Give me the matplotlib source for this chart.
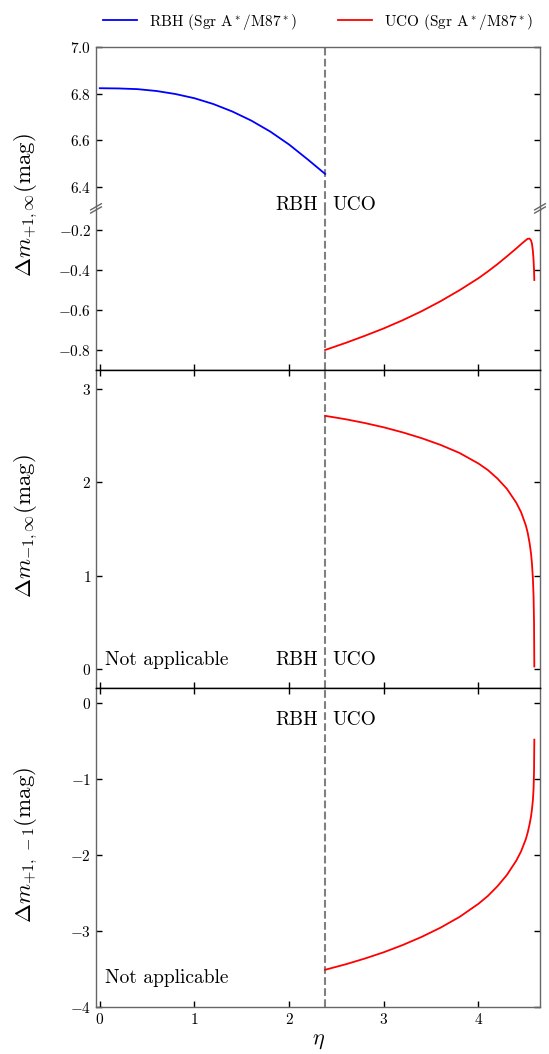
import matplotlib
matplotlib.use("Agg")
import matplotlib.pyplot as plt

plt.rcParams['font.family'] = 'serif'
plt.rcParams['font.serif'] = ['cmr10']
plt.rcParams['mathtext.fontset'] = 'cm'
plt.rcParams['axes.formatter.use_mathtext'] = True

# RBH branch (eta below the threshold)
eta_rbh = [0.0, 0.2, 0.4, 0.6, 0.8, 1.0, 1.2, 1.4, 1.6, 1.8, 2.0, 2.2, 2.38]
dm_p1_inf_rbh = [6.823, 6.822, 6.819, 6.811, 6.798, 6.780, 6.755, 6.723,
                 6.684, 6.637, 6.581, 6.516, 6.455]

# UCO branch
eta_uco = [2.38, 2.6, 2.8, 3.0, 3.2, 3.4, 3.6, 3.8, 4.0, 4.1, 4.2, 4.3, 4.4,
           4.45, 4.5, 4.52, 4.54, 4.555, 4.565, 4.575, 4.582, 4.587, 4.59]
dm_p1_inf_uco = [-0.800, -0.764, -0.729, -0.692, -0.651, -0.606, -0.556,
                 -0.501, -0.441, -0.407, -0.371, -0.332, -0.292, -0.271,
                 -0.251, -0.244, -0.243, -0.252, -0.268, -0.305, -0.35,
                 -0.40, -0.45]
dm_m1_inf_uco = [2.710, 2.673, 2.633, 2.587, 2.533, 2.471, 2.399, 2.313,
                 2.20, 2.13, 2.04, 1.93, 1.78, 1.68, 1.54, 1.46, 1.35, 1.24,
                 1.13, 0.97, 0.78, 0.50, 0.03]
dm_p1_m1_uco = [-3.510, -3.437, -3.362, -3.279, -3.184, -3.077, -2.955,
                -2.814, -2.641, -2.537, -2.411, -2.262, -2.072, -1.951,
                -1.791, -1.704, -1.593, -1.492, -1.398, -1.275, -1.13,
                -0.90, -0.48]

eta_c = 2.38
xlim = (-0.04, 4.65)
W, H = 549, 1054

fig = plt.figure(figsize=(W / 100, H / 100), dpi=100)
left, width = 96 / W, 444 / W


def px_axes(top, bottom):
    return fig.add_axes([left, 1 - bottom / H, width, (bottom - top) / H])


ax_hi = px_axes(47, 210)
ax_lo = px_axes(210, 370)
ax_mid = px_axes(370, 688)
ax_bot = px_axes(688, 1007)
axes = [ax_hi, ax_lo, ax_mid, ax_bot]

for ax in axes:
    ax.set_xlim(*xlim)
    ax.tick_params(direction='in', top=True, right=True, labelsize=11,
                   length=4, width=1, color='k')
    for s in ax.spines.values():
        s.set_color('0.4')
        s.set_linewidth(1.0)
    ax.axvline(eta_c, color='0.5', ls='--', lw=1.5, zorder=1)
    ax.set_xticks([0, 1, 2, 3, 4])

# broken top panel
ax_hi.set_ylim(6.3, 7.0)
ax_hi.set_yticks([6.4, 6.6, 6.8, 7.0])
ax_hi.spines['bottom'].set_visible(False)
ax_hi.tick_params(axis='x', top=False, bottom=False, labelbottom=False)
ax_lo.set_ylim(-0.9, -0.1)
ax_lo.set_yticks([-0.8, -0.6, -0.4, -0.2])
ax_lo.spines['top'].set_visible(False)
ax_lo.tick_params(axis='x', top=False, labelbottom=False)

ax_mid.set_ylim(-0.2, 3.2)
ax_mid.set_yticks([0, 1, 2, 3])
ax_mid.tick_params(axis='x', labelbottom=False)
ax_bot.set_ylim(-4, 0.2)
ax_bot.set_yticks([-4, -3, -2, -1, 0])

for ax in [ax_lo, ax_mid]:
    ax.spines['bottom'].set_color('k')
for ax in [ax_mid, ax_bot]:
    ax.spines['top'].set_color('k')

# break marks
d = 0.012
kw = dict(transform=ax_lo.transAxes, color='0.4', clip_on=False, lw=1.0)
for x0 in (0, 1):
    ax_lo.plot((x0 - d, x0 + d), (1 - 1.6 * d, 1 + 1.6 * d), **kw)
    ax_lo.plot((x0 - d, x0 + d), (1 - 1.6 * d + 0.02, 1 + 1.6 * d + 0.02), **kw)

l1, = ax_hi.plot(eta_rbh, dm_p1_inf_rbh, color='blue', lw=1.3,
                 label=r'RBH (Sgr A$^*$/M87$^*$)')
l2, = ax_lo.plot(eta_uco, dm_p1_inf_uco, color='red', lw=1.3,
                 label=r'UCO (Sgr A$^*$/M87$^*$)')
ax_mid.plot(eta_uco, dm_m1_inf_uco, color='red', lw=1.3)
ax_bot.plot(eta_uco, dm_p1_m1_uco, color='red', lw=1.3)

fs = 14
ax_lo.text(eta_c - 0.08, -0.1, 'RBH', ha='right', va='baseline', fontsize=fs)
ax_lo.text(eta_c + 0.08, -0.1, 'UCO', ha='left', va='baseline', fontsize=fs)
ax_mid.text(eta_c - 0.08, 0.05, 'RBH', ha='right', va='baseline', fontsize=fs)
ax_mid.text(eta_c + 0.08, 0.05, 'UCO', ha='left', va='baseline', fontsize=fs)
ax_mid.text(0.05, 0.05, 'Not applicable', ha='left', va='baseline', fontsize=fs)
ax_bot.text(eta_c - 0.08, -0.29, 'RBH', ha='right', va='baseline', fontsize=fs)
ax_bot.text(eta_c + 0.08, -0.29, 'UCO', ha='left', va='baseline', fontsize=fs)
ax_bot.text(0.05, -3.68, 'Not applicable', ha='left', va='baseline', fontsize=fs)

ylab_x = 26 / W
ylab_fs = 16.5
fig.text(ylab_x, 1 - 205 / H, r'$\Delta m_{+1,\infty}(\mathrm{mag})$',
         rotation=90, ha='center', va='center', fontsize=ylab_fs)
fig.text(ylab_x, 1 - 526 / H, r'$\Delta m_{-1,\infty}(\mathrm{mag})$',
         rotation=90, ha='center', va='center', fontsize=ylab_fs)
fig.text(ylab_x, 1 - 845 / H, r'$\Delta m_{+1,\,-1}(\mathrm{mag})$',
         rotation=90, ha='center', va='center', fontsize=ylab_fs)
ax_bot.set_xlabel(r'$\eta$', fontsize=16, labelpad=3)

ax_hi.legend(handles=[l1, l2], loc='lower center', bbox_to_anchor=(0.5, 1.0),
             ncol=2, frameon=False, fontsize=11, borderaxespad=0.6,
             handlelength=2.2, columnspacing=2.7)

fig.savefig('out.png', dpi=100)
